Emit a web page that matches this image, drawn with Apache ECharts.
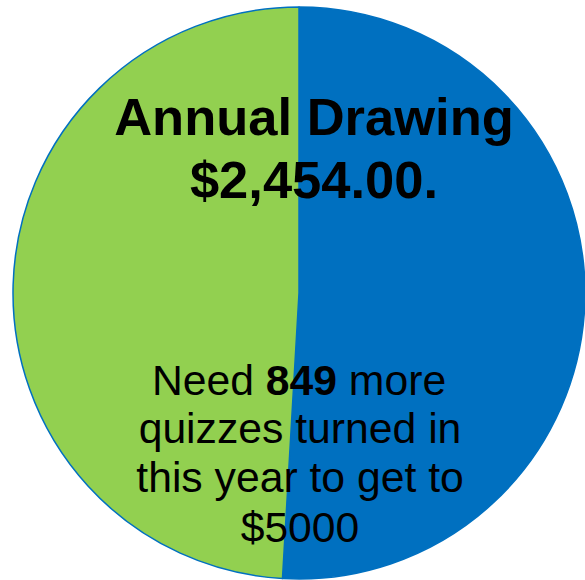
<!DOCTYPE html>
<html>
<head>
<meta charset="utf-8">
<script src="https://cdn.jsdelivr.net/npm/echarts@6/dist/echarts.min.js"></script>
<style>html,body{margin:0;padding:0;background:#fff}#c{width:585px;height:580px}</style>
</head>
<body>
<div id="c"></div>
<script>
var categories = ['Remaining', 'Raised'];
var values = [2546, 2454];
var colors = ['#0070C0', '#92D050'];
var titleLines = ['Annual Drawing', '$2,454.00.'];
var quizCount = '849';
var noteLines = ['quizzes turned in', 'this year to get to', '$5000'];

var chart = echarts.init(document.getElementById('c'), null, {renderer: 'svg'});
var font = '"Liberation Sans", Arial, sans-serif';
var graphics = [];
var titleY = [116, 179];
titleLines.forEach(function (t, i) {
  graphics.push({type: 'text', x: 314, y: titleY[i], z: 10,
    style: {text: t, fill: '#000', font: 'bold 52.5px ' + font, textAlign: 'center', textVerticalAlign: 'middle', verticalAlign: 'middle'}});
});
graphics.push({type: 'text', x: 299, y: 380, z: 10,
  style: {text: '{a|Need }{b|' + quizCount + '}{a| more}', textAlign: 'center', align: 'center', verticalAlign: 'middle', textVerticalAlign: 'middle',
    rich: {a: {fontFamily: font, fontSize: 42.7, color: '#000'}, b: {fontFamily: font, fontSize: 42.7, fontWeight: 'bold', color: '#000'}}}});
var noteY = [428, 477, 527];
noteLines.forEach(function (t, i) {
  graphics.push({type: 'text', x: 300, y: noteY[i], z: 10,
    style: {text: t, fill: '#000', font: '42.7px ' + font, textAlign: 'center', verticalAlign: 'middle', textVerticalAlign: 'middle'}});
});

chart.setOption({
  animation: false,
  series: [{
    type: 'pie',
    center: [299, 293],
    radius: 286,
    startAngle: 90,
    clockwise: true,
    label: {show: false},
    labelLine: {show: false},
    emphasis: {disabled: true},
    itemStyle: {borderColor: '#0070C0', borderWidth: 1.5},
    data: categories.map(function (c, i) {
      return {name: c, value: values[i], itemStyle: {color: colors[i]}};
    })
  }],
  graphic: graphics
});
</script>
</body>
</html>
